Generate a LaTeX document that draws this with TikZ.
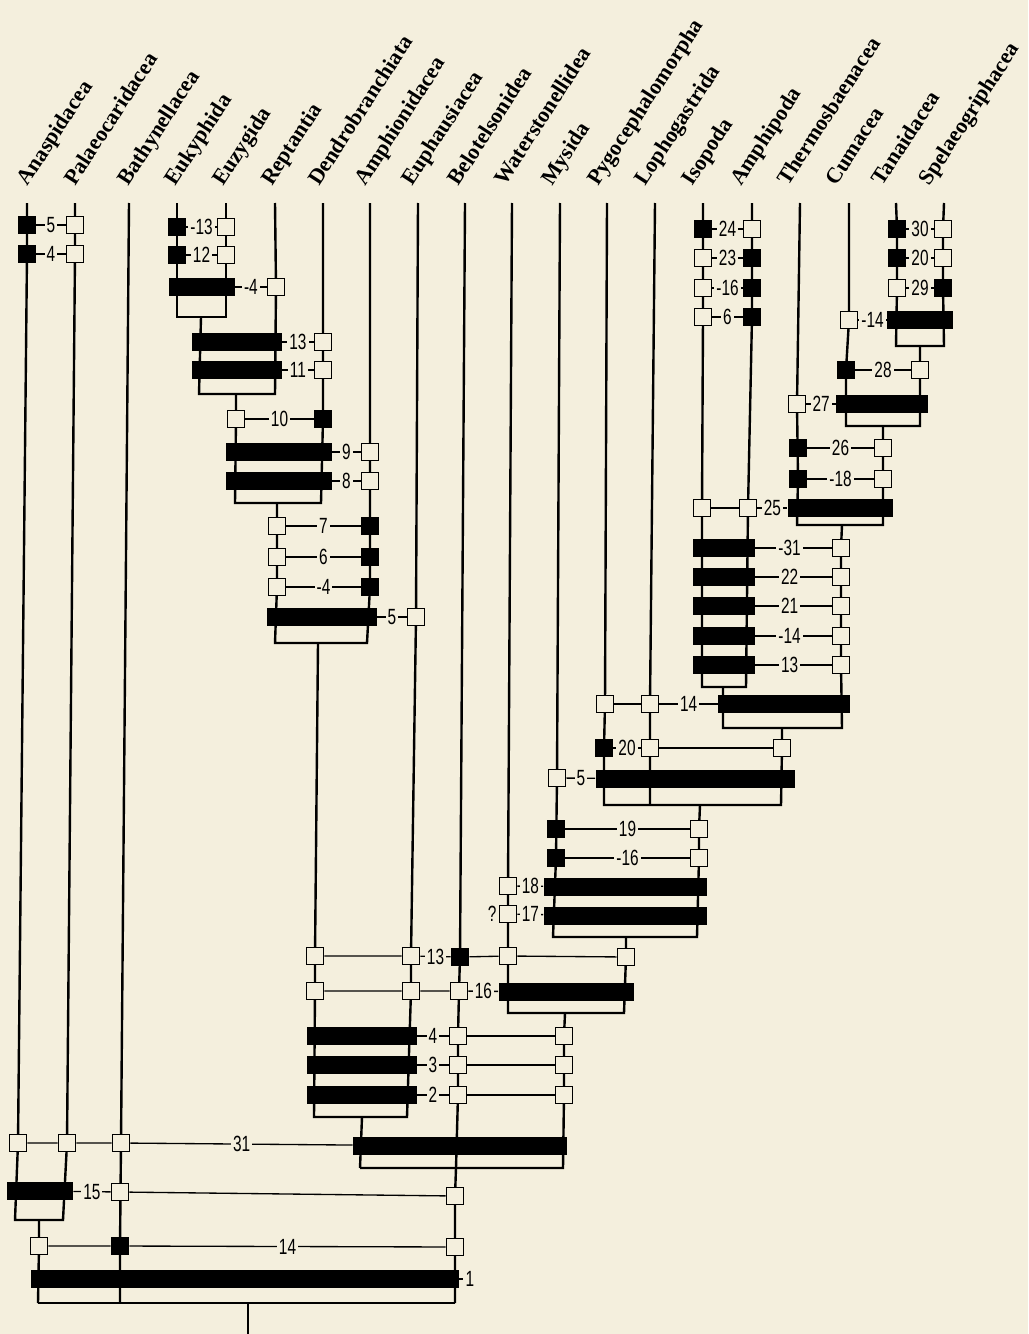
\documentclass[tikz,border=0pt]{standalone}
\usepackage{fontspec}
\setmainfont{Liberation Serif}
\newfontfamily\numfont[FakeStretch=0.7]{Liberation Sans}
\usepackage{tikz}
\usetikzlibrary{backgrounds}
\definecolor{paper}{HTML}{F4EFDD}
\tikzset{
  ob/.style={
    rectangle, draw=black, fill=paper,
    line width=1.1pt, minimum size=13pt, inner sep=0pt
  },
  fb/.style={ob, fill=black},
  bar/.style={
    rectangle, fill=black, inner sep=0pt,
    minimum height=14pt, minimum width=#1*0.75pt
  },
  lbl/.style={
    fill=paper, inner xsep=1.5pt, inner ysep=0.5pt,
    font=\numfont\fontsize{16.5}{17}\selectfont
  },
  con/.style={line width=1pt},
  lin/.style={line width=1.8pt, line join=miter}
}

\begin{document}
\begin{tikzpicture}[
    x=0.75pt, y=-0.75pt,
    taxon/.style={rotate=57, anchor=base west, inner sep=0pt,
                  font=\fontsize{16.5}{18}\selectfont\bfseries}
  ]
  \useasboundingbox (0,0) rectangle (1028,1334);

  \foreach \nm/\xx [count=\i] in {Anaspidacea/27, Palaeocaridacea/75,
      Bathynellacea/129, Eukyphida/177, Euzygida/226, Reptantia/275,
      Dendrobranchiata/323, Amphionidacea/370, Euphausiacea/418,
      Belotelsonidea/465, Waterstonellidea/512, Mysida/560,
      Pygocephalomorpha/607, Lophogastrida/655, Isopoda/703,
      Amphipoda/752, Thermosbaenacea/800, Cumacea/849, Tanaidacea/896,
      Spelaeogriphacea/944} {
    \coordinate (top\i) at (\xx,203);
    \node[taxon] (tx\i) at (\xx+1.6-0.79*\i,187) {\nm};
  }

  \node[fb]  (a5)   at (27,225)  {};
  \node[ob]  (p5)   at (75,225)  {};
  \node[fb]  (a4)   at (27,254)  {};
  \node[ob]  (p4)   at (75,254)  {};
  \node[fb]  (k13)  at (177,227) {};
  \node[ob]  (z13)  at (226,227) {};
  \node[fb]  (k12)  at (177,255) {};
  \node[ob]  (z12)  at (226,255) {};
  \node[bar=66]  (bkz4) at (202,287) {};
  \node[ob]  (r4)   at (276,287) {};
  \node[bar=90]  (b13)  at (237,342) {};
  \node[bar=90]  (b11)  at (237,370) {};
  \node[ob]  (d13)  at (323,342) {};
  \node[ob]  (d11)  at (323,370) {};
  \node[ob]  (s10)  at (236,419) {};
  \node[fb]  (d10)  at (323,419) {};
  \node[bar=106] (b9)   at (279,452) {};
  \node[bar=106] (b8)   at (279,481) {};
  \node[ob]  (m9)   at (370,452) {};
  \node[ob]  (m8)   at (370,481) {};
  \foreach \yy/\nn in {526/7, 557/6, 587/4} {
    \node[ob] (s\nn) at (277,\yy) {};
    \node[fb] (m\nn) at (370,\yy) {};
  }
  \node[bar=110] (b5)   at (322,617) {};
  \node[ob]  (e5)   at (416,617) {};

  \node[ob]  (c13)  at (315,956) {};
  \node[ob]  (e13)  at (411,956) {};
  \node[fb]  (l13)  at (460,957) {};
  \node[ob]  (w13)  at (508,956) {};
  \node[ob]  (y13)  at (626,957) {};
  \node[ob]  (c16)  at (315,991) {};
  \node[ob]  (e16)  at (411,991) {};
  \node[ob]  (l16)  at (459,991) {};
  \node[bar=135] (b16)  at (566,992) {};
  \foreach \yy/\nn in {1036/4, 1065/3, 1095/2} {
    \node[bar=110] (bb\nn) at (362,\yy) {};
    \node[ob] (l\nn) at (458,\yy) {};
    \node[ob] (q\nn) at (564,\yy) {};
    \draw[con] (bb\nn) -- node[lbl]{\nn} (l\nn) (l\nn) -- (q\nn);
  }
  \node[bar=214] (b31)  at (460,1146) {};
  \node[ob]  (a31)  at (18,1143)  {};
  \node[ob]  (p31)  at (67,1143)  {};
  \node[ob]  (h31)  at (121,1143) {};
  \node[bar=66]  (b15)  at (40,1191)  {};
  \node[ob]  (h15)  at (120,1192) {};
  \node[ob]  (l15)  at (455,1196) {};
  \node[ob]  (g14)  at (39,1246)  {};
  \node[fb]  (h14)  at (120,1246) {};
  \node[ob]  (l14)  at (455,1247) {};
  \node[bar=428] (b1)   at (245,1279) {};
  \node[lbl] (n1)   at (470,1279) {1};

  \foreach \yy/\nn/\lab/\lc/\rc in {229/24/24/black/paper,
      258/23/23/paper/black, 288/16/-16/paper/black, 317/6/6/paper/black} {
    \node[ob, fill=\lc] (i\nn) at (703,\yy) {};
    \node[ob, fill=\rc] (u\nn) at (752,\yy) {};
    \draw[con] (i\nn) -- node[lbl]{\lab} (u\nn);
  }
  \foreach \yy/\lab/\lc/\rc in {229/30/black/paper, 258/20/black/paper,
      288/29/paper/black} {
    \node[ob, fill=\lc] (n\lab) at (897,\yy) {};
    \node[ob, fill=\rc] (s\lab) at (943,\yy) {};
    \draw[con] (n\lab) -- node[lbl]{\lab} (s\lab);
  }
  \node[ob]  (c14)  at (849,320) {};
  \node[bar=66]  (bt14) at (920,320) {};
  \node[fb]  (c28)  at (846,370) {};
  \node[ob]  (x28)  at (920,370) {};
  \node[ob]  (o27)  at (797,404) {};
  \node[bar=92]  (b27)  at (882,404) {};
  \node[fb]  (o26)  at (798,448) {};
  \node[ob]  (x26)  at (883,448) {};
  \node[fb]  (o18)  at (798,479) {};
  \node[ob]  (x18)  at (883,479) {};
  \node[ob]  (i25)  at (702,508) {};
  \node[ob]  (u25)  at (748,508) {};
  \node[bar=105] (b25)  at (840,508) {};
  \foreach \yy/\nn/\lab in {548/31/-31, 577/22/22, 606/21/21, 636/14/-14,
      665/13/13} {
    \node[bar=62] (bi\nn) at (724,\yy) {};
    \node[ob] (v\nn) at (841,\yy) {};
    \draw[con] (bi\nn) -- node[lbl, pos=0.45]{\lab} (v\nn);
  }
  \node[ob]  (pyg14) at (605,704) {};
  \node[ob]  (lop14) at (650,704) {};
  \node[bar=132] (bl14)  at (784,704) {};
  \node[fb]  (pyg20) at (604,748) {};
  \node[ob]  (lop20) at (650,748) {};
  \node[ob]  (v20)   at (782,748) {};
  \node[ob]  (my5)   at (557,778) {};
  \node[bar=199] (bm5)   at (695,779) {};
  \node[fb]  (my19)  at (556,829) {};
  \node[ob]  (v19)   at (699,829) {};
  \node[fb]  (my16)  at (556,858) {};
  \node[ob]  (v16)   at (699,858) {};
  \node[ob]  (wa18)  at (508,886) {};
  \node[bar=163] (bm18)  at (625,887) {};
  \node[ob]  (wa17)  at (508,914) {};
  \node[bar=163] (bm17)  at (625,916) {};
  \node[lbl, fill=none, anchor=east] (qm) at (wa17.west) {?};

  \draw[con] (a5) -- node[lbl]{5} (p5);
  \draw[con] (a4) -- node[lbl]{4} (p4);
  \draw[con] (k13) -- node[lbl]{-13} (z13);
  \draw[con] (k12) -- node[lbl]{12} (z12);
  \draw[con] (bkz4) -- node[lbl]{-4} (r4);
  \draw[con] (b13) -- node[lbl]{13} (d13);
  \draw[con] (b11) -- node[lbl]{11} (d11);
  \draw[con] (s10) -- node[lbl]{10} (d10);
  \draw[con] (b9) -- node[lbl]{9} (m9);
  \draw[con] (b8) -- node[lbl]{8} (m8);
  \draw[con] (s7) -- node[lbl]{7} (m7);
  \draw[con] (s6) -- node[lbl]{6} (m6);
  \draw[con] (s4) -- node[lbl]{-4} (m4);
  \draw[con] (b5) -- node[lbl]{5} (e5);
  \draw[con] (c13) -- (e13) (e13) -- node[lbl]{13} (l13)
    (l13) -- (w13) (w13) -- (y13);
  \draw[con] (c16) -- (e16) (e16) -- (l16) (l16) -- node[lbl]{16} (b16);
  \draw[con] (a31) -- (p31) (p31) -- (h31) (h31) -- node[lbl]{31} (b31);
  \draw[con] (b15) -- node[lbl]{15} (h15) (h15) -- (l15);
  \draw[con] (g14) -- (h14) (h14) -- node[lbl]{14} (l14);
  \draw[con] (b1) -- (n1);
  \draw[con] (c14) -- node[lbl]{-14} (bt14);
  \draw[con] (c28) -- node[lbl]{28} (x28);
  \draw[con] (o27) -- node[lbl]{27} (b27);
  \draw[con] (o26) -- node[lbl]{26} (x26);
  \draw[con] (o18) -- node[lbl]{-18} (x18);
  \draw[con] (i25) -- (u25) (u25) -- node[lbl]{25} (b25);
  \draw[con] (pyg14) -- (lop14) (lop14) -- node[lbl]{14} (bl14);
  \draw[con] (pyg20) -- node[lbl]{20} (lop20) (lop20) -- (v20);
  \draw[con] (my5) -- node[lbl]{5} (bm5);
  \draw[con] (my19) -- node[lbl]{19} (v19);
  \draw[con] (my16) -- node[lbl]{-16} (v16);
  \draw[con] (wa18) -- node[lbl]{18} (bm18);
  \draw[con] (wa17) -- node[lbl]{17} (bm17);

  \begin{scope}[on background layer]
    \fill[paper] (0,0) rectangle (1028,1334);
    \draw[lin] (top1) -- (a5.center) -- (a4.center) -- (a31.center)
      -- (15,1220) -- (63,1220) -- (p31.center) -- (p4.center)
      -- (p5.center) -- (top2);
    \draw[lin] (39,1220) -- (g14.center) -- (38,1303);
    \draw[lin] (top3) -- (h31.center) -- (h14.center) -- (120,1303);
    \draw[lin] (38,1303) -- (455,1303) (248,1303) -- (248,1334);
    \draw[lin] (top10) -- (l13.center) -- (l16.center) -- (l4.center)
      -- (l2.center) -- (456,1168) -- (l15.center) -- (l14.center)
      -- (455,1303);
    \draw[lin] (360,1168) -- (563,1168) -- (q2.center) -- (q4.center)
      -- (565,1013);
    \draw[lin] (362,1117) -- (360,1168);
    \draw[lin] (318,643) -- (c13.center) -- (c16.center) -- (314,1117)
      -- (407,1117) -- (e16.center) -- (e13.center) -- (e5.center)
      -- (top9);
    \draw[lin] (277,503) -- (s7.center) -- (s4.center) -- (275,643)
      -- (367,643) -- (m4.center) -- (m9.center) -- (top8);
    \draw[lin] (236,394) -- (s10.center) -- (235,503) -- (321,503)
      -- (d10.center) -- (d13.center) -- (top7);
    \draw[lin] (201,317) -- (199,394) -- (275,394) -- (r4.center)
      -- (top6);
    \draw[lin] (top4) -- (k13.center) -- (k12.center) -- (177,317)
      -- (226,317) -- (z12.center) -- (z13.center) -- (top5);
    \draw[lin] (top19) -- (n30.center) -- (n29.center) -- (896,346)
      -- (944,346) -- (s29.center) -- (s30.center) -- (top20);
    \draw[lin] (top18) -- (c14.center) -- (c28.center) -- (846,426)
      -- (920,426) -- (x28.center) -- (920,346);
    \draw[lin] (top17) -- (o27.center) -- (o18.center) -- (797,525)
      -- (883,525) -- (x18.center) -- (x26.center) -- (883,426);
    \draw[lin] (top15) -- (i24.center) -- (i6.center) -- (i25.center)
      -- (702,687) -- (746,687) -- (u25.center) -- (u6.center)
      -- (u24.center) -- (top16);
    \draw[lin] (723,687) -- (723,728) -- (842,728) -- (v13.center)
      -- (v31.center) -- (842,525);
    \draw[lin] (top13) -- (pyg14.center) -- (pyg20.center) -- (604,805)
      -- (781,805) -- (v20.center) -- (782,728);
    \draw[lin] (top14) -- (lop14.center) -- (lop20.center) -- (650,805);
    \draw[lin] (700,805) -- (v19.center) -- (v16.center) -- (697,937)
      -- (553,937) -- (my16.center) -- (my5.center) -- (top12);
    \draw[lin] (top11) -- (wa18.center) -- (w13.center) -- (508,1013)
      -- (624,1013) -- (y13.center) -- (626,937);
  \end{scope}
\end{tikzpicture}
\end{document}
